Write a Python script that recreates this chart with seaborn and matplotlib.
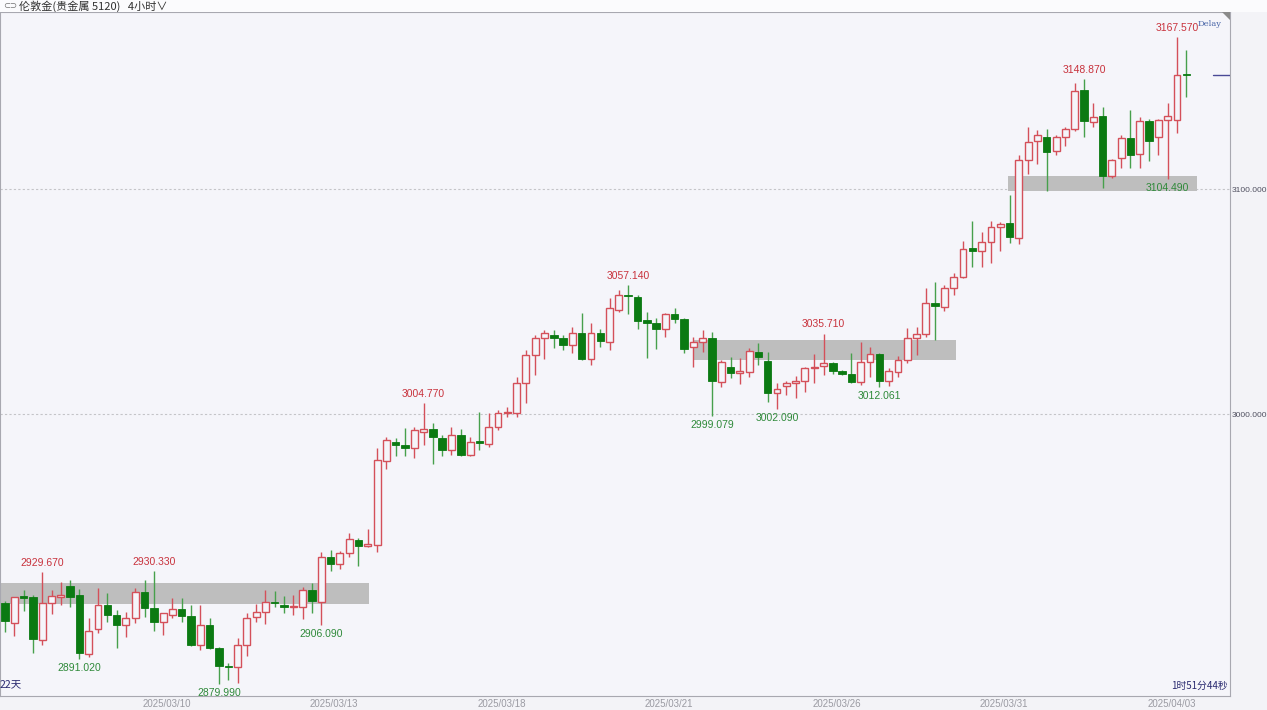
import numpy as np
import pandas as pd
import seaborn as sns
import matplotlib.pyplot as plt
from matplotlib.patches import Rectangle, Polygon

# 伦敦金 4小时 K线 (2025/03/07 - 2025/04/03)
opens = [2915.9, 2907.0, 2918.5, 2918.8, 2899.6, 2915.9, 2918.5, 2923.7, 2919.6, 2893.3,
         2904.3, 2915.1, 2910.7, 2906.2, 2909.2, 2921.0, 2913.6, 2907.7, 2910.7, 2913.2,
         2910.2, 2897.3, 2906.2, 2895.9, 2887.8, 2887.4, 2897.3, 2909.6, 2912.1, 2916.6,
         2915.1, 2914.1, 2914.1, 2921.8, 2916.6, 2936.3, 2933.2, 2938.1, 2944.0, 2941.3,
         2941.8, 2979.3, 2987.7, 2986.2, 2985.0, 2992.1, 2993.2, 2989.2, 2984.0, 2990.7,
         2981.8, 2988.1, 2986.7, 2994.1, 3000.3, 3000.3, 3013.9, 3026.2, 3033.6, 3035.1,
         3033.6, 3030.7, 3035.9, 3024.3, 3036.1, 3032.1, 3046.2, 3052.6, 3051.9, 3041.8,
         3040.3, 3037.6, 3044.3, 3042.1, 3029.9, 3032.1, 3033.6, 3014.4, 3021.0, 3018.1,
         3018.8, 3027.7, 3023.7, 3009.2, 3012.4, 3013.6, 3014.8, 3020.6, 3021.3, 3022.8,
         3019.3, 3017.8, 3014.4, 3023.2, 3026.5, 3014.8, 3018.8, 3024.0, 3033.6, 3035.6,
         3049.2, 3047.4, 3055.9, 3061.0, 3073.6, 3072.6, 3076.6, 3083.0, 3084.7, 3078.1,
         3112.9, 3121.3, 3123.3, 3117.0, 3123.3, 3126.5, 3144.0, 3129.9, 3132.6, 3105.8,
         3113.6, 3122.5, 3115.6, 3130.4, 3123.0, 3130.7, 3130.7, 3151.1]
highs = [2917.0, 2918.8, 2921.8, 2919.5, 2929.67, 2922.0, 2925.5, 2926.2, 2922.1, 2909.2,
         2922.5, 2920.3, 2912.9, 2912.1, 2922.5, 2926.2, 2930.33, 2911.7, 2918.1, 2918.1,
         2915.0, 2915.1, 2909.2, 2896.3, 2889.2, 2900.3, 2911.5, 2915.6, 2921.8, 2921.5,
         2919.1, 2919.6, 2923.3, 2924.8, 2938.8, 2939.6, 2939.2, 2947.0, 2944.8, 2948.9,
         2984.8, 2989.6, 2989.2, 2993.6, 2994.1, 3004.77, 2995.9, 2990.7, 2994.4, 2993.3,
         2990.0, 3001.0, 3000.3, 3001.8, 3003.2, 3016.3, 3028.4, 3035.1, 3037.3, 3037.3,
         3035.1, 3038.5, 3045.0, 3040.6, 3037.6, 3051.4, 3055.1, 3057.14, 3052.9, 3045.5,
         3042.5, 3045.0, 3047.0, 3042.5, 3034.4, 3037.3, 3036.6, 3024.0, 3025.5, 3024.8,
         3029.2, 3031.7, 3027.7, 3013.9, 3014.8, 3016.9, 3021.0, 3026.5, 3035.71, 3023.1,
         3019.5, 3027.0, 3032.1, 3029.9, 3027.0, 3020.6, 3025.9, 3038.1, 3038.8, 3055.9,
         3058.8, 3057.3, 3062.8, 3076.8, 3085.9, 3081.0, 3085.9, 3085.5, 3097.3, 3115.1,
         3127.4, 3126.2, 3126.5, 3124.0, 3127.7, 3146.9, 3148.87, 3138.1, 3136.3, 3113.2,
         3124.0, 3135.1, 3131.9, 3131.0, 3131.0, 3138.1, 3167.57, 3161.6]
lows = [2903.2, 2901.3, 2912.6, 2893.6, 2897.3, 2911.1, 2915.1, 2914.4, 2891.02, 2891.9,
        2902.5, 2907.7, 2895.9, 2901.0, 2907.0, 2909.9, 2903.7, 2901.8, 2909.2, 2907.7,
        2897.0, 2895.1, 2895.5, 2879.99, 2881.8, 2880.3, 2892.4, 2907.7, 2906.7, 2914.4,
        2911.7, 2910.7, 2908.8, 2911.4, 2906.09, 2930.4, 2931.0, 2936.3, 2932.4, 2941.0,
        2938.8, 2975.4, 2981.3, 2981.3, 2980.3, 2986.2, 2977.8, 2981.3, 2981.8, 2981.5,
        2981.3, 2984.0, 2985.5, 2992.9, 2998.8, 2998.8, 3004.7, 3017.3, 3024.3, 3029.2,
        3028.3, 3027.0, 3024.0, 3021.8, 3029.6, 3028.4, 3045.5, 3044.4, 3037.6, 3024.8,
        3028.8, 3034.4, 3040.6, 3027.2, 3021.0, 3027.7, 2999.079, 3012.1, 3015.9, 3013.3,
        3016.6, 3021.8, 3005.5, 3002.09, 3008.4, 3007.0, 3009.9, 3013.6, 3017.3, 3017.6,
        3017.3, 3013.9, 3012.9, 3016.6, 3012.061, 3012.4, 3016.6, 3022.5, 3026.2, 3034.4,
        3032.9, 3045.9, 3052.9, 3060.5, 3065.2, 3065.2, 3067.0, 3072.6, 3076.1, 3075.6,
        3106.7, 3111.1, 3099.3, 3115.1, 3119.1, 3125.9, 3123.3, 3127.4, 3100.3, 3104.8,
        3109.2, 3109.2, 3109.2, 3112.6, 3115.1, 3104.49, 3125.0, 3141.0]
closes = [2908.1, 2918.5, 2918.3, 2899.9, 2915.9, 2919.1, 2919.5, 2918.8, 2893.9, 2903.7,
          2915.1, 2910.7, 2906.2, 2909.2, 2921.0, 2913.6, 2907.7, 2911.4, 2913.2, 2910.2,
          2897.3, 2906.2, 2895.9, 2888.0, 2887.4, 2897.3, 2909.2, 2912.1, 2916.6, 2915.9,
          2914.3, 2914.7, 2921.8, 2917.0, 2936.6, 2933.3, 2938.1, 2944.3, 2941.3, 2942.2,
          2979.6, 2988.4, 2986.2, 2985.0, 2992.9, 2993.2, 2989.6, 2984.0, 2990.7, 2981.8,
          2987.7, 2987.0, 2994.1, 3000.3, 3000.8, 3013.9, 3026.2, 3033.6, 3035.9, 3033.6,
          3030.7, 3035.9, 3024.3, 3036.1, 3032.6, 3047.0, 3052.9, 3052.3, 3041.5, 3040.6,
          3037.6, 3044.3, 3042.1, 3028.8, 3032.1, 3033.6, 3014.8, 3023.2, 3018.1, 3019.3,
          3028.1, 3025.5, 3009.2, 3011.0, 3013.6, 3014.7, 3020.3, 3021.0, 3022.8, 3019.3,
          3017.8, 3014.4, 3023.2, 3026.7, 3014.8, 3019.3, 3024.0, 3033.6, 3035.6, 3049.2,
          3048.0, 3055.9, 3061.0, 3073.2, 3072.4, 3076.6, 3083.0, 3084.4, 3078.5, 3112.9,
          3121.0, 3124.0, 3116.6, 3123.3, 3126.5, 3143.7, 3130.4, 3132.1, 3105.8, 3112.9,
          3122.5, 3115.1, 3130.4, 3121.5, 3130.7, 3132.4, 3150.7, 3150.7]

date_labels = ["2025/03/10", "2025/03/13", "2025/03/18", "2025/03/21",
               "2025/03/26", "2025/03/31", "2025/04/03"]
date_pos = [17.4, 35.4, 53.4, 71.4, 89.4, 107.4, 125.4]

# 标注的高点 / 低点 (K线序号)
high_marks = [4, 16, 45, 67, 88, 116, 126]
low_marks = [8, 23, 34, 76, 83, 94, 125]

# 灰色区间
zone_start = [-0.6, 74.0, 107.8]
zone_end = [39.1, 102.2, 128.1]
zone_lo = [2915.6, 3024.0, 3099.1]
zone_hi = [2924.9, 3032.9, 3105.8]

df = pd.DataFrame({"open": opens, "high": highs, "low": lows, "close": closes})
df["idx"] = np.arange(len(df))
df["up"] = df["close"] >= df["open"]

sns.set_theme(style="white")
plt.rcParams["font.family"] = ["Liberation Sans", "Noto Sans CJK SC", "DejaVu Sans"]

RED = "#d4505a"
GREEN = "#0b7a12"
GREEN_W = "#47a04c"
BG = "#f5f5fa"

fig = plt.figure(figsize=(12.67, 7.10), dpi=100)
fig.patch.set_facecolor("#f3f3f7")
ax = fig.add_axes([0.0, 14 / 710, 1230 / 1267, 684 / 710])
ax.set_facecolor(BG)

# 区间
for s, e, lo, hi in zip(zone_start, zone_end, zone_lo, zone_hi):
    ax.add_patch(Rectangle((s, lo), e - s, hi - lo, facecolor="#bebebe",
                           edgecolor="none", zorder=1))

# 虚线
for lvl in [3000, 3100]:
    ax.axhline(lvl, color="#c4c4c8", lw=0.8, ls=(0, (2, 2)), zorder=0.5)

up = df[df["up"]]
dn = df[~df["up"]]

ax.vlines(up["idx"], up["low"], up["high"], color=RED, lw=1.0, zorder=2)
ax.vlines(dn["idx"], dn["low"], dn["high"], color=GREEN_W, lw=1.0, zorder=2)

h_up = np.maximum(up["close"] - up["open"], 0.4)
ax.bar(up["idx"], h_up, bottom=up["open"], width=0.74, facecolor=BG,
       edgecolor=RED, linewidth=1.0, zorder=3)
h_dn = np.maximum(dn["open"] - dn["close"], 0.6)
ax.bar(dn["idx"], h_dn, bottom=dn["close"], width=0.8, facecolor=GREEN,
       edgecolor=GREEN, linewidth=0.6, zorder=3)

# 高低点标注
for i in high_marks:
    ax.annotate(f"{highs[i]:.3f}", (i, highs[i]), xytext=(0, 3),
                textcoords="offset points", ha="center", va="bottom",
                fontsize=7.5, color="#c8323c", zorder=5)
for i in low_marks:
    ax.annotate(f"{lows[i]:.3f}", (i, lows[i]), xytext=(0, -3),
                textcoords="offset points", ha="center", va="top",
                fontsize=7.5, color="#2f8a3a", zorder=5)

# 最新价标记
ax.axhline(closes[-1], xmin=0.986, xmax=1.0, color="#4a4a96", lw=1.0, zorder=4)

ax.set_xlim(-0.54, 131.7)
ax.set_ylim(2874.67, 3178.67)

ax.set_xticks(date_pos)
ax.set_xticklabels(date_labels)
ax.tick_params(axis="x", length=0, pad=2, labelsize=7, labelcolor="#9a9aa2")
ax.yaxis.tick_right()
ax.set_yticks([3000, 3100])
ax.set_yticklabels([f"{v:.3f}" for v in [3000, 3100]])
ax.tick_params(axis="y", length=0, pad=1.5, labelsize=6, labelcolor="#505060")
ax.grid(False)
for sp in ax.spines.values():
    sp.set_color("#a8a8b0")
    sp.set_linewidth(0.8)

# 右上角
ax.add_patch(Polygon([[0.9935, 1.0], [1.0, 1.0], [1.0, 0.988]], closed=True,
                     transform=ax.transAxes, facecolor="#8a8a8a",
                     edgecolor="none", zorder=6, clip_on=False))
ax.text(0.993, 0.988, "Delay", transform=ax.transAxes, ha="right", va="top",
        fontsize=6, color="#4a66a8", family="DejaVu Serif")

ax.text(0.0, 0.01, "22天", transform=ax.transAxes, ha="left", va="bottom",
        fontsize=7.5, color="#2a2a70", family=["Noto Sans CJK SC", "DejaVu Sans"])
ax.text(0.998, 0.008, "1时51分44秒", transform=ax.transAxes, ha="right",
        va="bottom", fontsize=7, color="#2a2a70",
        family=["Noto Sans CJK SC", "DejaVu Sans"])

# 顶部标题栏
fig.patches.append(Rectangle((0, 1 - 12 / 710), 1, 12 / 710, transform=fig.transFigure,
                             facecolor="#fbfbfd", edgecolor="none", zorder=0))
fig.text(3 / 1267, 1 - 6 / 710, "⊂⊃", fontsize=6, color="#707070",
         va="center", ha="left", family="DejaVu Sans")
fig.text(19 / 1267, 1 - 6 / 710, "伦敦金(贵金属 5120)   4小时∨", fontsize=8,
         color="#303030", va="center", ha="left",
         family=["Noto Sans CJK SC", "DejaVu Sans"])

fig.savefig("out.png", dpi=100, facecolor=fig.get_facecolor())
